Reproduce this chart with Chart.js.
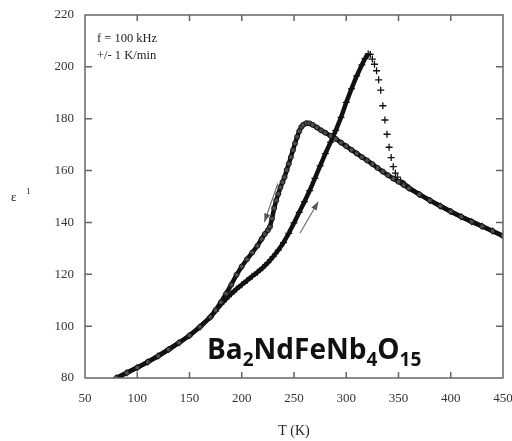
<!DOCTYPE html>
<html lang="en">
<head>
    <meta charset="UTF-8">
    <title>Ba2NdFeNb4O15 permittivity</title>
    <script src="https://cdn.jsdelivr.net/npm/chart.js"></script>
    <style>
        body { margin: 0; background: #fff; }
    </style>
</head>
<body>
    <canvas id="epsChart" width="512" height="441"></canvas>

    <script>
        // heating run (+ markers)
        const heatT = [80, 90, 100, 110, 120, 130, 140, 150, 160, 170, 175,
            180, 185, 190, 195, 200, 205, 210, 215, 220, 225, 230, 235, 240, 245, 250, 255, 260, 265, 270, 275,
            280, 285, 290, 295, 300, 305, 310, 315, 318, 321, 323, 325, 327, 329, 331, 333, 335, 337, 339, 341,
            343, 345, 347, 349, 352, 356, 360, 370, 380, 390, 400, 410, 420, 430, 440, 450];
        const heatEps = [80, 82, 84, 86.2, 88.5, 91, 93.6, 96.4, 99.7, 103.5, 105.9,
            108.4, 110.5, 112.5, 114.3, 116, 117.6, 119.2, 120.8, 122.5, 124.5, 126.8, 129.3, 132.2, 135.8, 139.8, 143.9, 148, 152.3, 157, 161.8,
            166.5, 171, 175.5, 180.5, 186.3, 191.5, 196.5, 200.8, 203.2, 205, 204.8, 203, 201, 198.5, 195, 191, 185, 179.5, 174, 169,
            165, 161.5, 159, 157.5, 156, 154.7, 153.3, 150.8, 148.5, 146.3, 144.2, 142.2, 140.3, 138.5, 136.7, 134.8];

        // cooling run (o markers)
        const coolT = [80, 90, 100, 110, 120, 130, 140, 150, 160, 170, 175,
            180, 185, 190, 195, 200, 205, 210, 215, 219, 222, 225, 227, 229, 231, 233, 235, 237, 239, 241,
            243, 245, 247, 249, 251, 253, 255, 257, 259, 262, 265, 268, 272, 276, 280, 285, 290, 295, 300, 305,
            310, 315, 320, 325, 330, 335, 340, 345, 350, 355, 360, 370, 380, 390, 400, 410, 420, 430, 440, 450];
        const coolEps = [80, 82, 84, 86.2, 88.5, 91, 93.6, 96.4, 99.7, 103.5, 106.2,
            109.2, 112.5, 116, 119.8, 123, 125.8, 128.4, 131, 133.6, 135.5, 137, 138.3, 141.5, 145.5, 148.5, 151, 153.5, 155.5, 157.5,
            160.2, 162.6, 165.2, 167.9, 170.5, 173, 175.2, 176.8, 177.7, 178.3, 178.2, 177.6, 176.6, 175.5, 174.6, 173.4, 172.2, 170.8, 169.4, 168,
            166.6, 165.2, 163.9, 162.5, 161, 159.6, 158.2, 156.9, 155.7, 154.4, 153.2, 150.8, 148.5, 146.3, 144.2, 142.2, 140.3, 138.5, 136.7, 134.8];

        const xTicks = [50, 100, 150, 200, 250, 300, 350, 400, 450];
        const yTicks = [80, 100, 120, 140, 160, 180, 200, 220];

        // arrows in data units: [T0, eps0, T1, eps1], head at the end
        const coolArrow = [234.5, 155, 221.7, 140.2];
        const heatArrow = [255.7, 135.8, 273.2, 148];

        const serif = "'Liberation Serif', 'DejaVu Serif', serif";

        function toPoints(xs, ys) {
            return xs.map((x, i) => ({ x: x, y: ys[i] }));
        }

        function drawArrow(ctx, xs, ys, a) {
            const x0 = xs.getPixelForValue(a[0]), y0 = ys.getPixelForValue(a[1]);
            const x1 = xs.getPixelForValue(a[2]), y1 = ys.getPixelForValue(a[3]);
            const ang = Math.atan2(y1 - y0, x1 - x0);
            ctx.beginPath();
            ctx.moveTo(x0, y0);
            ctx.lineTo(x1, y1);
            ctx.stroke();
            ctx.beginPath();
            ctx.moveTo(x1, y1);
            ctx.lineTo(x1 - 9 * Math.cos(ang - 0.35), y1 - 9 * Math.sin(ang - 0.35));
            ctx.lineTo(x1 - 9 * Math.cos(ang + 0.35), y1 - 9 * Math.sin(ang + 0.35));
            ctx.closePath();
            ctx.fill();
        }

        // keep the plot box fixed, labels may hang over the edge like the original
        function noPad(s) {
            s.paddingLeft = 0; s.paddingRight = 0; s.paddingTop = 0; s.paddingBottom = 0;
        }

        const framePlugin = {
            id: "frame",
            afterDraw(chart) {
                const ctx = chart.ctx;
                const a = chart.chartArea;
                const xs = chart.scales.x, ys = chart.scales.y;
                ctx.save();

                // box + inward ticks on all sides
                ctx.strokeStyle = "#666";
                ctx.lineWidth = 1.5;
                ctx.strokeRect(a.left, a.top, a.right - a.left, a.bottom - a.top);
                ctx.beginPath();
                xTicks.slice(1, -1).forEach(v => {
                    const px = xs.getPixelForValue(v);
                    ctx.moveTo(px, a.bottom); ctx.lineTo(px, a.bottom - 6);
                    ctx.moveTo(px, a.top); ctx.lineTo(px, a.top + 6);
                });
                yTicks.slice(1, -1).forEach(v => {
                    const py = ys.getPixelForValue(v);
                    ctx.moveTo(a.left, py); ctx.lineTo(a.left + 7, py);
                    ctx.moveTo(a.right, py); ctx.lineTo(a.right - 7, py);
                });
                ctx.stroke();

                // y label: eps'
                ctx.fillStyle = "#222";
                ctx.textBaseline = "alphabetic";
                ctx.font = "13px " + serif;
                ctx.fillText("ε", 11, 201);
                ctx.font = "9px " + serif;
                ctx.fillText("1", 26, 194);

                // measurement notes
                ctx.font = "12.5px " + serif;
                ctx.fillText("f = 100 kHz", a.left + 12, a.top + 27);
                ctx.fillText("+/- 1 K/min", a.left + 12, a.top + 44);

                // arrows
                ctx.strokeStyle = "#666";
                ctx.fillStyle = "#555";
                ctx.lineWidth = 1.1;
                drawArrow(ctx, xs, ys, coolArrow);
                drawArrow(ctx, xs, ys, heatArrow);

                // compound formula with subscripts
                const parts = [["Ba", 0], ["2", 1], ["NdFeNb", 0], ["4", 1], ["O", 0], ["15", 1]];
                const big = "bold 28px 'Open Sans', 'Noto Sans', sans-serif";
                const small = "bold 19px 'Open Sans', 'Noto Sans', sans-serif";
                let x = a.left + 122;
                const base = a.bottom - 19;
                ctx.fillStyle = "#111";
                parts.forEach(p => {
                    ctx.font = p[1] ? small : big;
                    ctx.fillText(p[0], x, base + (p[1] ? 7 : 0));
                    x += ctx.measureText(p[0]).width;
                });
                ctx.restore();
            }
        };

        const ctx = document.getElementById("epsChart").getContext("2d");
        new Chart(ctx, {
            type: "scatter",
            data: {
                datasets: [
                    {
                        label: "cooling",
                        data: toPoints(coolT, coolEps),
                        showLine: true,
                        borderColor: "#111",
                        borderWidth: 4.5,
                        pointStyle: "circle",
                        pointRadius: 2.5,
                        pointBorderWidth: 1,
                        pointBorderColor: "#111",
                        pointBackgroundColor: "rgba(255,255,255,0.25)",
                        tension: 0
                    },
                    {
                        label: "heating",
                        data: toPoints(heatT, heatEps),
                        showLine: true,
                        borderColor: "#111",
                        borderWidth: 4.5,
                        pointStyle: "cross",
                        pointRadius: 3.5,
                        pointBorderWidth: 1.3,
                        pointBorderColor: "#111",
                        tension: 0,
                        segment: {
                            // the drop after the peak shows only the markers
                            borderColor: c => (c.p0.parsed.x >= 321 && c.p1.parsed.x <= 352) ? "rgba(0,0,0,0)" : undefined
                        }
                    }
                ]
            },
            options: {
                responsive: false,
                animation: false,
                layout: { padding: { top: 15, right: 9, left: 0, bottom: 0 } },
                plugins: {
                    legend: { display: false },
                    tooltip: { enabled: false }
                },
                scales: {
                    x: {
                        type: "linear",
                        min: 50,
                        max: 450,
                        afterBuildTicks: s => { s.ticks = xTicks.map(v => ({ value: v })); },
                        afterFit: s => { s.height = 63; noPad(s); },
                        grid: { display: false, drawTicks: false },
                        border: { display: false },
                        ticks: { padding: 13, color: "#333", font: { family: serif, size: 13 } },
                        title: {
                            display: true,
                            text: "T (K)",
                            color: "#222",
                            font: { family: serif, size: 14 },
                            padding: { top: 0, bottom: 1 }
                        }
                    },
                    y: {
                        type: "linear",
                        min: 80,
                        max: 220,
                        afterBuildTicks: s => { s.ticks = yTicks.map(v => ({ value: v })); },
                        afterFit: s => { s.width = 85; noPad(s); },
                        grid: { display: false, drawTicks: false },
                        border: { display: false },
                        ticks: { padding: 11, color: "#333", font: { family: serif, size: 13 } }
                    }
                }
            },
            plugins: [framePlugin]
        });
    </script>
</body>
</html>
